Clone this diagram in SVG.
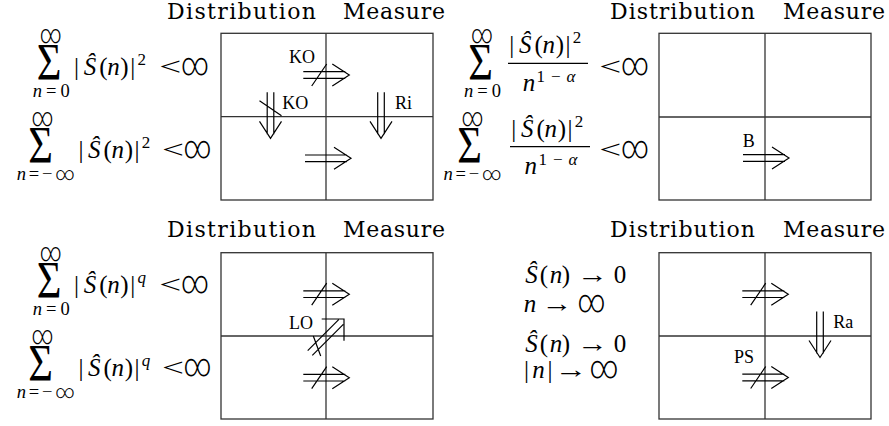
<svg xmlns="http://www.w3.org/2000/svg" xmlns:xlink="http://www.w3.org/1999/xlink" width="889" height="426" viewBox="0 0 889 426">
<style>
text{font-family:'Liberation Serif',serif;fill:#000}
.ti{font-family:'DejaVu Serif',serif;font-size:22px}
.m{font-size:25px;text-anchor:middle}
.r{font-size:25px}
.i{font-style:italic}
.s{font-size:17px}
.big{font-size:53px}
.lim{font-size:18.5px;text-anchor:middle}
.lf{font-family:Roboto,'Liberation Serif',sans-serif;font-weight:300}
.li{font-family:Roboto,'Liberation Serif',sans-serif;font-weight:300;font-size:26px;text-anchor:middle}
.inf{font-family:Roboto,'Liberation Serif',sans-serif;font-weight:300;font-size:32px}
.lb{font-size:18px}
.bx{fill:none;stroke:#333;stroke-width:1.3}
.ar{fill:none;stroke:#000;stroke-width:1.2}
.fr{stroke:#000;stroke-width:1.2}
</style>
<defs>
<path id="dr" class="ar" d="M0,-3.3H42M0,3.3H42M29,-11L46,0L29,11"/>
<path id="ndr" class="ar" d="M0,-3.3H42M0,3.3H42M29,-11L46,0L29,11M8.4,11L23.4,-11"/>
</defs>

<g id="panel1">
<text class="ti" x="167" y="19" textLength="149">Distribution</text>
<text class="ti" x="343" y="19" textLength="102">Measure</text>
<g id="p1-sum-half">
<text class="li" x="50.8" y="43" textLength="22" lengthAdjust="spacingAndGlyphs">∞</text>
<text class="big" transform="translate(36.7,80) scale(0.8,1)">Σ</text>
<text class="lim" x="51.3" y="97" textLength="37" lengthAdjust="spacing"><tspan class="i">n</tspan>=0</text>
<text class="m" y="75"><tspan x="76.5">|</tspan><tspan x="90" class="i">Ŝ</tspan><tspan x="103.3">(</tspan><tspan x="113.5" class="i">n</tspan><tspan x="124.5">)</tspan><tspan x="132.8">|</tspan><tspan x="141.7" y="65" class="s">2</tspan></text>
<text class="r" x="159.3" y="75" textLength="22" lengthAdjust="spacingAndGlyphs">&lt;</text>
<text class="inf" x="181" y="75" textLength="28" lengthAdjust="spacingAndGlyphs">∞</text>
</g>
<g id="p1-sum-full">
<text class="li" x="42.5" y="125.5" textLength="22" lengthAdjust="spacingAndGlyphs">∞</text>
<text class="big" transform="translate(28.3,163) scale(0.8,1)">Σ</text>
<text class="lim" x="45.8" y="179.5" textLength="58" lengthAdjust="spacing"><tspan class="i">n</tspan>=−<tspan class="lf">∞</tspan></text>
<text class="m" y="158.3"><tspan x="81">|</tspan><tspan x="94.3" class="i">Ŝ</tspan><tspan x="107.6">(</tspan><tspan x="117.8" class="i">n</tspan><tspan x="128.8">)</tspan><tspan x="137.1">|</tspan><tspan x="146" y="148.3" class="s">2</tspan></text>
<text class="r" x="162" y="158.3" textLength="22" lengthAdjust="spacingAndGlyphs">&lt;</text>
<text class="inf" x="183.5" y="158.3" textLength="28" lengthAdjust="spacingAndGlyphs">∞</text>
</g>
<g id="p1-box">
<rect class="bx" x="221" y="33.3" width="212" height="166.7"/>
<line class="bx" x1="326" y1="33.3" x2="326" y2="200"/>
<line class="bx" x1="221" y1="116.7" x2="433" y2="116.7"/>
</g>
</g>

<g id="panel2">
<text class="ti" x="610" y="19" textLength="145">Distribution</text>
<text class="ti" x="783" y="19" textLength="102">Measure</text>
<g id="p2-sum-half">
<text class="li" x="482" y="43" textLength="22" lengthAdjust="spacingAndGlyphs">∞</text>
<text class="big" transform="translate(468.3,80) scale(0.8,1)">Σ</text>
<text class="lim" x="482.5" y="97" textLength="37" lengthAdjust="spacing"><tspan class="i">n</tspan>=0</text>
<text class="m" y="53"><tspan x="511.8">|</tspan><tspan x="525.3" class="i">Ŝ</tspan><tspan x="538.6">(</tspan><tspan x="548.8" class="i">n</tspan><tspan x="559.8">)</tspan><tspan x="568.1">|</tspan><tspan x="577" y="43" class="s">2</tspan></text>
<line class="fr" x1="508" y1="63.3" x2="588" y2="63.3"/>
<text class="m" y="90.5"><tspan x="529" class="i">n</tspan></text>
<text x="536.5" y="81.5" textLength="39" lengthAdjust="spacing" style="font-size:17px">1−<tspan class="i">α</tspan></text>
<text class="r" x="599.3" y="74.5" textLength="22" lengthAdjust="spacingAndGlyphs">&lt;</text>
<text class="inf" x="621" y="74.5" textLength="28" lengthAdjust="spacingAndGlyphs">∞</text>
</g>
<g id="p2-sum-full">
<text class="li" x="472.5" y="125.5" textLength="22" lengthAdjust="spacingAndGlyphs">∞</text>
<text class="big" transform="translate(457.3,163) scale(0.8,1)">Σ</text>
<text class="lim" x="472.5" y="179.5" textLength="58" lengthAdjust="spacing"><tspan class="i">n</tspan>=−<tspan class="lf">∞</tspan></text>
<text class="m" y="137"><tspan x="513.8">|</tspan><tspan x="527.3" class="i">Ŝ</tspan><tspan x="540.6">(</tspan><tspan x="550.8" class="i">n</tspan><tspan x="561.8">)</tspan><tspan x="570.1">|</tspan><tspan x="579" y="127" class="s">2</tspan></text>
<line class="fr" x1="510" y1="146.7" x2="590" y2="146.7"/>
<text class="m" y="173.5"><tspan x="530.7" class="i">n</tspan></text>
<text x="538.5" y="164.5" textLength="39" lengthAdjust="spacing" style="font-size:17px">1−<tspan class="i">α</tspan></text>
<text class="r" x="599.3" y="158" textLength="22" lengthAdjust="spacingAndGlyphs">&lt;</text>
<text class="inf" x="621" y="158" textLength="28" lengthAdjust="spacingAndGlyphs">∞</text>
</g>
<g id="p2-box">
<rect class="bx" x="659" y="33.3" width="212" height="166.7"/>
<line class="bx" x1="765" y1="33.3" x2="765" y2="200"/>
<line class="bx" x1="659" y1="117" x2="871" y2="117"/>
</g>
</g>

<g id="panel3">
<text class="ti" x="167" y="236.7" textLength="149">Distribution</text>
<text class="ti" x="343" y="236.7" textLength="102">Measure</text>
<g id="p3-sum-half">
<text class="li" x="50.8" y="261" textLength="22" lengthAdjust="spacingAndGlyphs">∞</text>
<text class="big" transform="translate(36.7,298) scale(0.8,1)">Σ</text>
<text class="lim" x="51.3" y="315" textLength="37" lengthAdjust="spacing"><tspan class="i">n</tspan>=0</text>
<text class="m" y="293"><tspan x="76.5">|</tspan><tspan x="90" class="i">Ŝ</tspan><tspan x="103.3">(</tspan><tspan x="113.5" class="i">n</tspan><tspan x="124.5">)</tspan><tspan x="132.8">|</tspan><tspan x="141.7" y="283" class="s i">q</tspan></text>
<text class="r" x="159.3" y="293" textLength="22" lengthAdjust="spacingAndGlyphs">&lt;</text>
<text class="inf" x="181" y="293" textLength="28" lengthAdjust="spacingAndGlyphs">∞</text>
</g>
<g id="p3-sum-full">
<text class="li" x="42.5" y="343.5" textLength="22" lengthAdjust="spacingAndGlyphs">∞</text>
<text class="big" transform="translate(28.3,381) scale(0.8,1)">Σ</text>
<text class="lim" x="45.8" y="397.5" textLength="58" lengthAdjust="spacing"><tspan class="i">n</tspan>=−<tspan class="lf">∞</tspan></text>
<text class="m" y="376.3"><tspan x="81">|</tspan><tspan x="94.3" class="i">Ŝ</tspan><tspan x="107.6">(</tspan><tspan x="117.8" class="i">n</tspan><tspan x="128.8">)</tspan><tspan x="137.1">|</tspan><tspan x="146" y="366.3" class="s i">q</tspan></text>
<text class="r" x="162" y="376.3" textLength="22" lengthAdjust="spacingAndGlyphs">&lt;</text>
<text class="inf" x="183.5" y="376.3" textLength="28" lengthAdjust="spacingAndGlyphs">∞</text>
</g>
<g id="p3-box">
<rect class="bx" x="221" y="252.7" width="212" height="166.3"/>
<line class="bx" x1="326" y1="252.7" x2="326" y2="419"/>
<line class="bx" x1="221" y1="336" x2="433" y2="336"/>
</g>
</g>

<g id="panel4">
<text class="ti" x="610" y="236.7" textLength="145">Distribution</text>
<text class="ti" x="783" y="236.7" textLength="102">Measure</text>
<g id="p4-seq-half">
<text class="m" y="283"><tspan x="531.5" class="i">Ŝ</tspan><tspan x="544">(</tspan><tspan x="556" class="i">n</tspan><tspan x="566">)</tspan><tspan x="620">0</tspan></text>
<text class="r" x="577" y="283" textLength="31" lengthAdjust="spacingAndGlyphs">→</text>
<text class="m" y="312"><tspan x="530" class="i">n</tspan></text>
<text class="r" x="541.5" y="312" textLength="31" lengthAdjust="spacingAndGlyphs">→</text>
<text class="inf" x="577.5" y="312" textLength="28" lengthAdjust="spacingAndGlyphs">∞</text>
</g>
<g id="p4-seq-full">
<text class="m" y="352"><tspan x="531.5" class="i">Ŝ</tspan><tspan x="544">(</tspan><tspan x="556" class="i">n</tspan><tspan x="566">)</tspan><tspan x="620">0</tspan></text>
<text class="r" x="577" y="352" textLength="31" lengthAdjust="spacingAndGlyphs">→</text>
<text class="m" y="378"><tspan x="526.5">|</tspan><tspan x="538.5" class="i">n</tspan><tspan x="550">|</tspan></text>
<text class="r" x="554.5" y="378" textLength="33" lengthAdjust="spacingAndGlyphs">→</text>
<text class="inf" x="589.5" y="378" textLength="29" lengthAdjust="spacingAndGlyphs">∞</text>
</g>
<g id="p4-box">
<rect class="bx" x="659" y="252.7" width="212" height="166.3"/>
<line class="bx" x1="765" y1="252.7" x2="765" y2="419"/>
<line class="bx" x1="659" y1="336" x2="871" y2="336"/>
</g>
</g>

<g id="connectors">
<use xlink:href="#ndr" href="#ndr" transform="translate(303.3,75)"/>
<text class="lb" x="289" y="63.3">KO</text>
<use xlink:href="#ndr" href="#ndr" transform="translate(270.5,92.3) rotate(90)"/>
<text class="lb" x="282.3" y="109">KO</text>
<use xlink:href="#dr" href="#dr" transform="translate(381,92.3) rotate(90)"/>
<text class="lb" x="395" y="109">Ri</text>
<use xlink:href="#dr" href="#dr" transform="translate(305,158.3)"/>

<use xlink:href="#dr" href="#dr" transform="translate(743,158)"/>
<text class="lb" x="742.7" y="146.7">B</text>

<use xlink:href="#ndr" href="#ndr" transform="translate(303.3,294.2)"/>
<use xlink:href="#ndr" href="#ndr" transform="translate(303.3,377.7)"/>
<path class="ar" d="M321.7,319H344V340.7M307.7,350.7L338.7,319.7M312.3,355.3L343.3,324.3M313.3,336L320.7,356"/>
<text class="lb" x="289" y="329">LO</text>

<use xlink:href="#ndr" href="#ndr" transform="translate(742.3,294.2)"/>
<use xlink:href="#dr" href="#dr" transform="translate(820,311.5) rotate(90)"/>
<text class="lb" x="833.3" y="328.3">Ra</text>
<use xlink:href="#ndr" href="#ndr" transform="translate(742.3,377.5)"/>
<text class="lb" x="734" y="363.3">PS</text>
</g>
</svg>
